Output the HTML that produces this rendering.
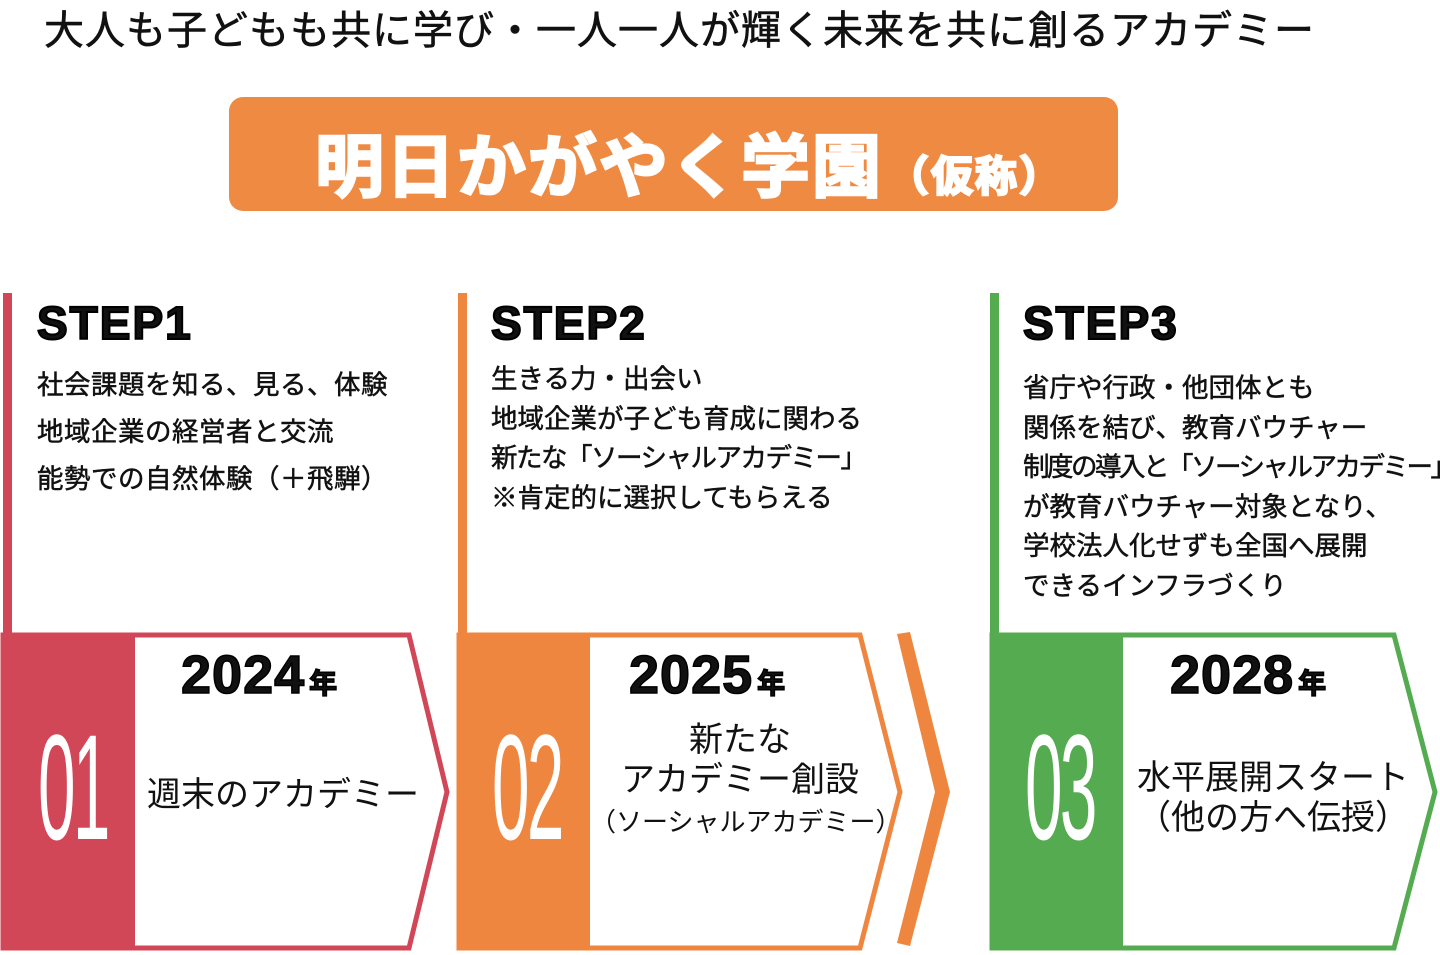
<!DOCTYPE html>
<html><head><meta charset="utf-8"><style>
*{margin:0;padding:0}
body{width:1440px;height:955px;background:#fff;position:relative;overflow:hidden;font-family:"Liberation Sans","Noto Sans CJK JP",sans-serif;color:#111}
.a{position:absolute;white-space:nowrap}
.step{font-weight:bold;font-size:46px;-webkit-text-stroke:2px #000;letter-spacing:2px}
.body{font-size:26.5px;line-height:39.5px;-webkit-text-stroke:0.5px #111}
.yr{font-weight:bold;font-size:54px;-webkit-text-stroke:1.5px #000;letter-spacing:1px}
.yr small{font-size:28px;margin-left:4px}
.num{font-size:150px;line-height:150px;color:#fff;transform:scaleX(0.45);transform-origin:left top;letter-spacing:-6px}
.lbl{font-size:34px;text-align:center;line-height:40px}
</style></head><body>
<div class="a" style="left:44px;top:-2px;font-size:40px;-webkit-text-stroke:0.6px #111;letter-spacing:1px">大人も子どもも共に学び・一人一人が輝く未来を共に創るアカデミー</div>
<div class="a" style="left:229px;top:97px;width:889px;height:114px;background:#ef8a43;border-radius:14px"></div>
<div class="a" style="left:315px;top:111px;font-size:69px;letter-spacing:2px;font-weight:bold;color:#fff;-webkit-text-stroke:2.5px #fff">明日かがやく学園<span style="font-size:42px;margin-left:4px">（仮称）</span></div>
<svg class="a" style="left:0;top:0" width="1440" height="955">
<rect x="3" y="293" width="9" height="342" fill="#d24757"/>
<rect x="458" y="293" width="9" height="342" fill="#ee8640"/>
<rect x="990" y="293" width="9" height="342" fill="#55ab4f"/>
<polygon points="3,635 409,635 447,792 409,948 3,948" fill="#fff" stroke="#d24757" stroke-width="5"/>
<rect x="2" y="633" width="133" height="317" fill="#d24757"/>
<polygon points="459,635 860,635 900,792 860,948 459,948" fill="#fff" stroke="#ee8640" stroke-width="5"/>
<rect x="457" y="633" width="133" height="317" fill="#ee8640"/>
<polygon points="897,634 910,632 950,792 910,946 897,943 935,792" fill="#ee8640"/>
<polygon points="992,635 1394,635 1435,792 1394,948 992,948" fill="#fff" stroke="#55ab4f" stroke-width="5"/>
<rect x="990" y="633" width="133" height="317" fill="#55ab4f"/>
</svg>
<div class="a step" style="left:37px;top:296px">STEP1</div>
<div class="a body" style="left:37px;top:362px;line-height:47px;letter-spacing:0.5px">社会課題を知る、見る、体験<br>地域企業の経営者と交流<br>能勢での自然体験（＋飛騨）</div>
<div class="a step" style="left:491px;top:296px">STEP2</div>
<div class="a body" style="left:491px;top:360px">生きる力・出会い<br>地域企業が子ども育成に関わる<br><span style="letter-spacing:-1.5px">新たな「ソーシャルアカデミー」</span><br>※肯定的に選択してもらえる</div>
<div class="a step" style="left:1023px;top:296px">STEP3</div>
<div class="a body" style="left:1023px;top:369px">省庁や行政・他団体とも<br>関係を結び、教育バウチャー<br><span style="letter-spacing:-2.5px">制度の導入と「ソーシャルアカデミー」</span><br>が教育バウチャー対象となり、<br>学校法人化せずも全国へ展開<br>できるインフラづくり</div>
<div class="a yr" style="left:181px;top:644px">2024<small>年</small></div>
<div class="a yr" style="left:629px;top:644px">2025<small>年</small></div>
<div class="a yr" style="left:1170px;top:644px">2028<small>年</small></div>
<div class="a num" style="left:38px;top:712px">01</div>
<div class="a num" style="left:492px;top:712px">02</div>
<div class="a num" style="left:1025px;top:712px">03</div>
<div class="a lbl" style="left:147px;top:775px">週末のアカデミー</div>
<div class="a lbl" style="left:590px;top:720px;width:300px">新たな<br>アカデミー創設<br><span style="font-size:26px">（ソーシャルアカデミー）</span></div>
<div class="a lbl" style="left:1128px;top:758px;width:290px">水平展開スタート<br>（他の方へ伝授）</div>
</body></html>
